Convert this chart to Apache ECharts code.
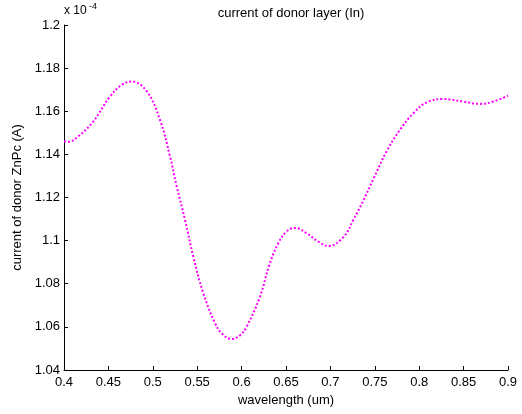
<!DOCTYPE html>
<html><head><meta charset="utf-8">
<script src="https://cdn.jsdelivr.net/npm/echarts@6/dist/echarts.min.js"></script>
<style>html,body{margin:0;padding:0;background:#fff}#c{width:522px;height:414px}</style>
</head><body><div id="c"></div>
<script>
const wavelength = [0.400,0.405,0.415,0.4327,0.4518,0.465,0.4762,0.4931,0.5081,0.5194,0.5269,0.5363,0.5456,0.5569,0.5701,0.5780,0.5889,0.5980,0.6057,0.6207,0.6312,0.6413,0.6508,0.6601,0.6733,0.6864,0.6977,0.7146,0.7258,0.737,0.7483,0.7634,0.7784,0.7934,0.8084,0.8272,0.8497,0.8685,0.8835,0.900];
const current = [1.1462,1.1458,1.1480,1.1551,1.1668,1.1722,1.1738,1.1693,1.1560,1.1390,1.1252,1.1096,1.0926,1.0756,1.0617,1.0568,1.0544,1.0560,1.0601,1.0740,1.0887,1.0988,1.1043,1.1059,1.1034,1.0995,1.0975,1.1016,1.1096,1.1185,1.1285,1.1415,1.1514,1.1591,1.1641,1.1657,1.1645,1.1634,1.1645,1.1672];
const xTicks = [0.4,0.45,0.5,0.55,0.6,0.65,0.7,0.75,0.8,0.85,0.9];
const yTicks = [1.04,1.06,1.08,1.1,1.12,1.14,1.16,1.18,1.2];
const font = 'Liberation Sans, Arial, sans-serif';
const chart = echarts.init(document.getElementById('c'), null, {renderer:'canvas'});
chart.setOption({
  animation:false,
  backgroundColor:'#fff',
  title:{text:'current of donor layer (In)', left:286, top:2, textAlign:'center',
    textStyle:{fontFamily:font,fontSize:13,fontWeight:'normal',color:'#000'}},
  graphic:[{type:'text', left:64, top:5, style:{text:'x 10', font:'12px '+font, fill:'#000'}},
           {type:'text', left:89, top:2, style:{text:'-4', font:'9px '+font, fill:'#000'}}],
  grid:{left:64,right:14,top:25,bottom:44},
  xAxis:{type:'value',min:0.4,max:0.9,interval:0.05,
    name:'wavelength (um)',nameLocation:'middle',nameGap:24,
    nameTextStyle:{fontFamily:font,fontSize:13,color:'#000'},
    axisLine:{lineStyle:{color:'#000',width:1}},
    axisTick:{inside:true,length:4,lineStyle:{color:'#000'}},
    splitLine:{show:false},
    axisLabel:{fontFamily:font,fontSize:13,color:'#000',margin:6,
      formatter:v=>{const t=xTicks.find(a=>Math.abs(a-v)<1e-6);return t===undefined?'':String(t);}}},
  yAxis:{type:'value',min:1.04,max:1.2,interval:0.02,
    name:'current of donor ZnPc (A)',nameLocation:'middle',nameGap:30,
    nameTextStyle:{fontFamily:font,fontSize:13,color:'#000'},
    axisLine:{show:true,lineStyle:{color:'#000',width:1}},
    axisTick:{show:true,inside:true,length:4,lineStyle:{color:'#000'}},
    splitLine:{show:false},
    axisLabel:{fontFamily:font,fontSize:13,color:'#000',margin:4,
      formatter:v=>{const t=yTicks.find(a=>Math.abs(a-v)<1e-6);return t===undefined?'':String(t);}}},
  series:[{type:'line',data:wavelength.map((x,i)=>[x,current[i]]),smooth:0.4,showSymbol:false,
    lineStyle:{color:'#ff00ff',width:2,type:[2,2]}}]
});
</script></body></html>
